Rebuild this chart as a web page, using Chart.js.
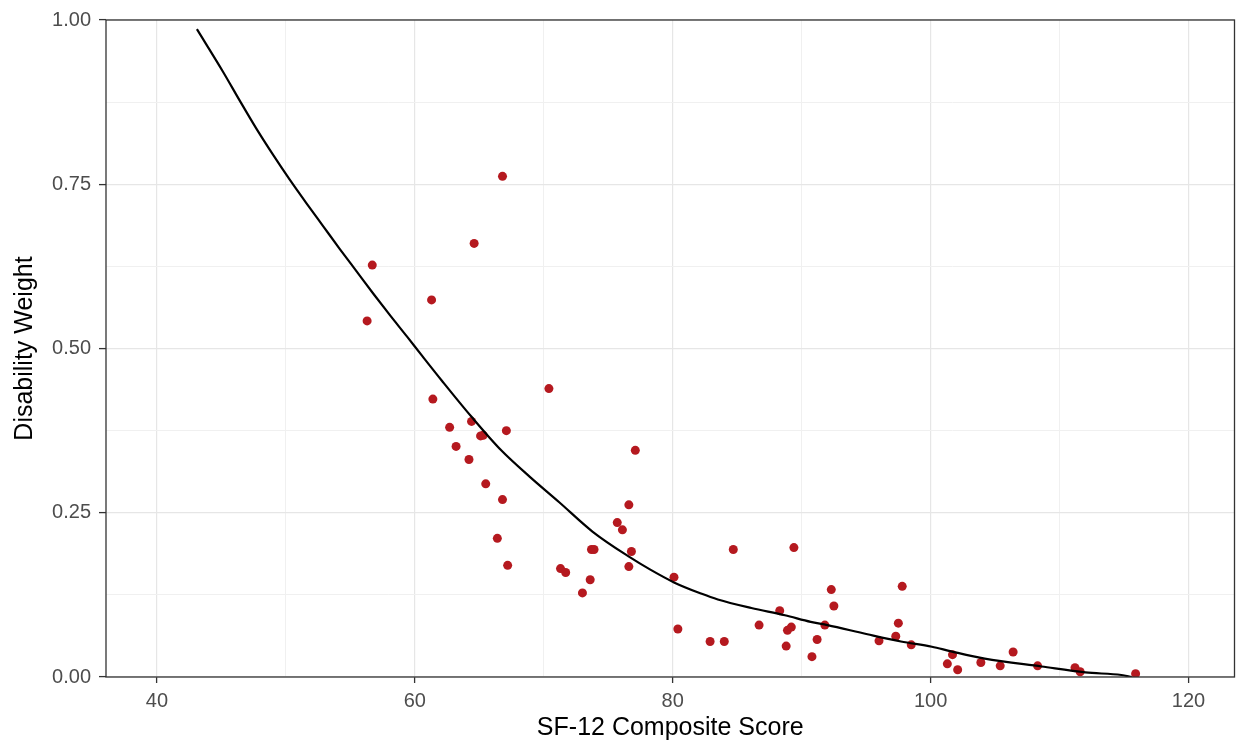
<!DOCTYPE html>
<html>
<head>
<meta charset="utf-8">
<script src="https://cdn.jsdelivr.net/npm/chart.js@4"></script>
<style>
  html, body { margin: 0; padding: 0; background: #fff; }
  #wrap { width: 1239px; height: 747px; }
</style>
</head>
<body>
<div id="wrap"><canvas id="scatterchart" width="1239" height="747"></canvas></div>
<script>
// observed points
const sfScore = [56.3, 56.7, 61.3, 61.4, 62.7, 63.2, 64.2, 64.4, 64.6, 65.1, 65.3, 65.5, 66.4, 66.8, 66.8,
  67.1, 67.2, 70.4, 71.3, 71.7, 73.0, 73.6, 73.7, 73.9, 75.7, 76.1, 76.6, 76.6, 76.8, 77.1,
  80.1, 80.4, 82.9, 84.0, 84.7, 86.7, 88.3, 88.8, 88.9, 89.2, 89.4, 90.8, 91.2, 91.8, 92.3,
  92.5, 96.0, 97.3, 97.5, 97.8, 98.5, 101.3, 101.7, 102.1, 103.9, 105.4, 106.4, 108.3, 111.2, 111.6, 115.9]
const disWeight = [0.542, 0.627, 0.574, 0.423, 0.380, 0.351, 0.331, 0.389, 0.660, 0.367, 0.368, 0.294, 0.211, 0.762, 0.270,
  0.375, 0.170, 0.439, 0.165, 0.159, 0.128, 0.148, 0.194, 0.194, 0.235, 0.224, 0.262, 0.168, 0.191, 0.345,
  0.152, 0.073, 0.054, 0.054, 0.194, 0.079, 0.101, 0.047, 0.071, 0.076, 0.197, 0.031, 0.057, 0.079, 0.133,
  0.108, 0.055, 0.062, 0.082, 0.138, 0.049, 0.020, 0.034, 0.011, 0.022, 0.017, 0.038, 0.017, 0.014, 0.008, 0.005]

// smoothed fit line
const curveX = [43.1, 45.1, 46.4, 47.7, 49.0, 50.3, 51.6, 52.9, 54.2, 55.5, 56.8, 58.1, 59.4, 60.6, 62.1,
  64.4, 66.7, 68.9, 71.2, 73.8, 76.7, 78.3, 80.1, 82.2, 83.5, 86.1, 88.7, 90.7, 92.0, 95.1,
  97.7, 100.1, 101.6, 104.2, 108.6, 112.0, 114.8, 115.6]
const curveY = [0.986, 0.922, 0.878, 0.835, 0.795, 0.757, 0.721, 0.686, 0.651, 0.617, 0.583, 0.550, 0.518, 0.488, 0.451,
  0.396, 0.345, 0.305, 0.266, 0.221, 0.182, 0.163, 0.144, 0.127, 0.118, 0.105, 0.094, 0.084, 0.079, 0.065,
  0.054, 0.046, 0.039, 0.028, 0.016, 0.007, 0.003, 0.000]

const xTicks = [40, 50, 60, 70, 80, 90, 100, 110, 120]
const yTicks = [0, 0.125, 0.25, 0.375, 0.5, 0.625, 0.75, 0.875, 1]

const isMajorX = v => v % 20 === 0
const isMajorY = v => Math.abs(v * 4 - Math.round(v * 4)) < 1e-6

const panelBorder = {
  id: 'panelBorder',
  afterDatasetsDraw(chart) {
    const {ctx, chartArea} = chart
    ctx.save()
    ctx.strokeStyle = '#333333'
    ctx.lineWidth = 1.3
    ctx.strokeRect(chartArea.left, chartArea.top, chartArea.right - chartArea.left, chartArea.bottom - chartArea.top)
    ctx.restore()
  }
}

const ctx = document.getElementById('scatterchart')

new Chart(ctx, {
  type: 'scatter',
  data: {
    datasets: [{
      type: 'line',
      label: 'fit',
      data: curveX.map((x, i) => ({x: x, y: curveY[i]})),
      borderColor: '#000000',
      borderWidth: 2.2,
      pointRadius: 0,
      cubicInterpolationMode: 'monotone',
      fill: false,
      order: 0
    }, {
      label: 'Disability Weight',
      data: sfScore.map((x, i) => ({x: x, y: disWeight[i]})),
      backgroundColor: '#B5191F',
      borderColor: '#B5191F',
      borderWidth: 0,
      pointRadius: 4.5,
      order: 1
    }]
  },
  options: {
    responsive: false,
    animation: false,
    layout: { padding: {left: 0, right: 4, top: 16, bottom: 0} },
    plugins: {
      legend: { display: false },
      tooltip: { enabled: false }
    },
    scales: {
      x: {
        type: 'linear',
        min: 36.05,
        max: 123.57,
        afterBuildTicks: s => { s.ticks = xTicks.map(v => ({value: v})) },
        afterFit: s => { s.height = 70 },
        border: { display: false },
        grid: {
          color: c => isMajorX(c.tick.value) ? '#e6e6e6' : '#f0f0f0',
          lineWidth: c => isMajorX(c.tick.value) ? 1.2 : 1,
          tickColor: c => isMajorX(c.tick.value) ? '#333333' : 'rgba(0,0,0,0)',
          tickLength: 6,
          tickWidth: 1.3
        },
        ticks: {
          autoSkip: false,
          maxRotation: 0,
          padding: 6,
          color: '#4d4d4d',
          font: { family: 'Liberation Sans, Arial, sans-serif', size: 20 },
          callback: v => isMajorX(v) ? String(v) : ''
        },
        title: {
          display: true,
          text: 'SF-12 Composite Score',
          color: '#000000',
          font: { family: 'Liberation Sans, Arial, sans-serif', size: 25 },
          padding: {top: 0, bottom: 4}
        }
      },
      y: {
        min: 0,
        max: 1,
        afterBuildTicks: s => { s.ticks = yTicks.map(v => ({value: v})) },
        afterFit: s => { s.width = 106 },
        border: { display: false },
        grid: {
          color: c => isMajorY(c.tick.value) ? '#e6e6e6' : '#f0f0f0',
          lineWidth: c => isMajorY(c.tick.value) ? 1.2 : 1,
          tickColor: c => isMajorY(c.tick.value) ? '#333333' : 'rgba(0,0,0,0)',
          tickLength: 7,
          tickWidth: 1.3
        },
        ticks: {
          autoSkip: false,
          padding: 8,
          color: '#4d4d4d',
          font: { family: 'Liberation Sans, Arial, sans-serif', size: 20 },
          callback: v => isMajorY(v) ? v.toFixed(2) : ''
        },
        title: {
          display: true,
          text: 'Disability Weight',
          color: '#000000',
          font: { family: 'Liberation Sans, Arial, sans-serif', size: 25 },
          padding: {top: 10, bottom: 0}
        }
      }
    }
  },
  plugins: [panelBorder]
});
</script>
</body>
</html>
